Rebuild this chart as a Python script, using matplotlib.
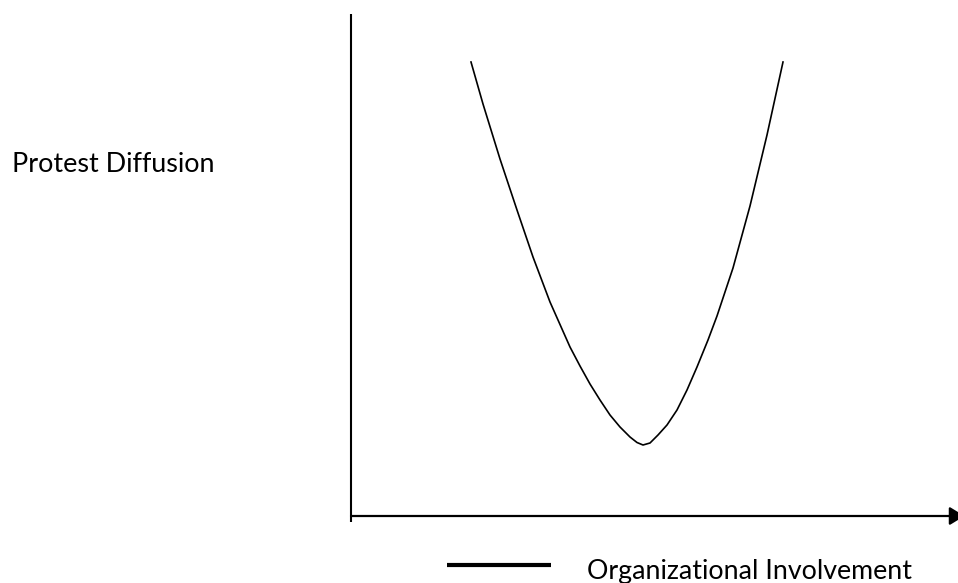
import matplotlib
matplotlib.use("Agg")
import matplotlib.pyplot as plt
from matplotlib.lines import Line2D

# ---- data (units = pixels from the axes origin) ----
involvement = [120, 132, 149, 166, 182, 199, 219, 229, 239, 249, 259, 269, 279,
               286, 292, 299, 307, 316, 326, 336, 346, 357, 366, 382, 399, 416, 432]
diffusion = [454, 412, 357, 306, 259, 214, 169, 150, 132, 116, 101, 89, 79,
             73.5, 71, 73, 81, 91, 106, 126, 149, 176, 200, 248, 310, 381, 454]
y_label = "Protest Diffusion"
legend_label = "Organizational Involvement"

# ---- layout ----
W, H = 958, 583
ox, oy, top = 351, 516, 14
FONT = ["Lato", "DejaVu Sans"]

fig = plt.figure(figsize=(W / 100, H / 100), dpi=100)
fig.patch.set_facecolor("white")
ax = fig.add_axes([ox / W, (H - oy) / H, (W - ox) / W, (oy - top) / H])
ax.set_xlim(0, W - ox)
ax.set_ylim(0, oy - top)
ax.axis("off")

# curve
ax.plot(involvement, diffusion, color="black", lw=1.2,
        solid_joinstyle="round", antialiased=True)

# vertical axis (extends slightly below the horizontal axis)
ax.plot([0, 0], [-6, oy - top], color="black", lw=1.5, clip_on=False,
        solid_capstyle="butt")
# horizontal axis with arrow (head partly beyond the right edge)
ax.annotate("", xy=(613.5, 0), xytext=(0, 0),
            arrowprops=dict(arrowstyle="-|>,head_length=0.9,head_width=0.55",
                            lw=1.6, color="black", shrinkA=0, shrinkB=0),
            annotation_clip=False)

# legend line
fig.add_artist(Line2D([447 / W, 551 / W], [1 - 565 / H, 1 - 565 / H],
                      transform=fig.transFigure, color="black", lw=3.0,
                      solid_capstyle="butt"))

renderer = fig.canvas.get_renderer()


def fitted_text(x_px, base_px, s, width_px, boost=1.04):
    t = fig.text(x_px / W, 1 - base_px / H, s, ha="left", va="baseline",
                 family=FONT, fontsize=16, color="black")
    w = t.get_window_extent(renderer).width
    t.set_fontsize(16 * width_px / w * boost)
    return t


fitted_text(12, 172, y_label, 196)
fitted_text(587, 579, legend_label, 326, boost=1.0)

fig.savefig("out.png", dpi=100, facecolor="white")
